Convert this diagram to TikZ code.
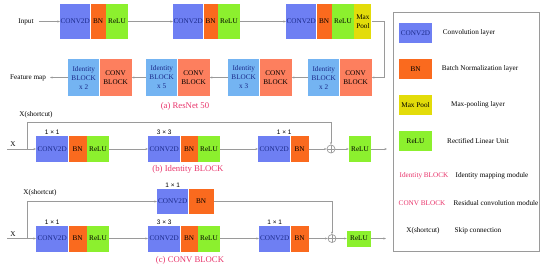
\documentclass[tikz,border=0pt]{standalone}
\usepackage{fontspec}
\setmainfont{Liberation Serif}
\setsansfont{Liberation Sans}
\usetikzlibrary{arrows.meta,positioning}
\definecolor{Cc}{HTML}{6E7FF3}
\definecolor{Bc}{HTML}{FA6A1E}
\definecolor{Rc}{HTML}{8CF02E}
\definecolor{Mc}{HTML}{E3DC0A}
\definecolor{Ic}{HTML}{74B4F2}
\definecolor{Vc}{HTML}{FD7F5E}
\definecolor{Nv}{HTML}{1B2A8A}
\definecolor{Pk}{HTML}{E8336A}
\definecolor{Gl}{HTML}{9A9A9A}
\tikzset{
  blk/.style={rectangle, inner sep=0pt, minimum height=26pt, align=center,
    font=\fontsize{7.2}{9}\selectfont, text=black},
  conv/.style={blk, fill=Cc, text=Nv},
  bn/.style={blk, fill=Bc},
  relu/.style={blk, fill=Rc},
  pool/.style={blk, fill=Mc},
  idb/.style={blk, fill=Ic, text=Nv, minimum width=31pt, minimum height=37pt},
  cvb/.style={blk, fill=Vc, minimum width=32pt, minimum height=37pt},
  lbl/.style={font=\fontsize{7.2}{9}\selectfont, inner sep=1pt, text=black},
  kk/.style={font=\sffamily\fontsize{6.5}{8}\selectfont, inner sep=1pt},
  capt/.style={font=\fontsize{8.7}{10}\selectfont, text=Pk},
  link/.style={-{Stealth[length=2.5pt,width=2pt]}, Gl, line width=0.7pt},
  plus/.style={circle, draw=Gl, line width=0.7pt, inner sep=0pt, minimum size=8pt,
    path picture={\draw[Gl, line width=0.7pt]
      (path picture bounding box.north) -- (path picture bounding box.south)
      (path picture bounding box.west) -- (path picture bounding box.east);}},
}
% CONV2D -- BN -- ReLU chain: name, west point, height, conv width, bn width
\newcommand{\cbr}[5]{%
  \node[conv, minimum width=#4, minimum height=#3, anchor=west] (#1c) at #2 {CONV2D};
  \node[bn, minimum width=#5, minimum height=#3, right=0pt of #1c] (#1b) {BN};
  \node[relu, minimum width=22, minimum height=#3, right=0pt of #1b] (#1r) {ReLU};}

\begin{document}
\begin{tikzpicture}[x=1pt, y=-1pt]
  \useasboundingbox (0,0) rectangle (550,269);
  % (a) ResNet 50
  \node[lbl, inner xsep=5pt] (inp) at (26,21.5) {Input};
  \cbr{a}{(60,21.5)}{35}{30}{15}
  \cbr{b}{(173,21.5)}{35}{30}{14}
  \cbr{c}{(286,21.5)}{35}{30}{15}
  \node[pool, minimum width=17, minimum height=35, right=0pt of cr] (cp) {Max\\Pool};
  \draw[link] (inp.east) -- (ac.west);
  \draw[link] (ar.east) -- (bc.west);
  \draw[link] (br.east) -- (cc.west);
  \foreach \g/\xx/\n in {A/308/2, B/228/3, C/146/5, D/68/2}{
    \node[idb, anchor=west] (i\g) at (\xx,77.5) {Identity\\BLOCK\\x \n};
    \node[cvb, right=0pt of i\g] (v\g) {CONV\\BLOCK};}
  \node[lbl, inner xsep=4pt] (fm) at (28,77.5) {Feature map};
  \draw[link] (cp.east) -- ++(13,0) |- (vA.east);
  \draw[link] (iA.west) -- (vB.east);
  \draw[link] (iB.west) -- (vC.east);
  \draw[link] (iC.west) -- (vD.east);
  \draw[link] (iD.west) -- (fm.east);
  \node[capt] (capa) at (185,106) {(a) ResNet 50};

  % (b) Identity BLOCK
  \coordinate (x3) at (7,149);
  \coordinate (s3) at (27,149);
  \coordinate (o3) at (387,149);
  \node[lbl] (xb) at (13,144.5) {X};
  \node[lbl] (xs3) at (36,115) {X(shortcut)};
  \cbr{d}{(36,149)}{26}{32}{18}
  \cbr{e}{(148,149)}{26}{32}{17}
  \node[conv, minimum width=32, anchor=west] (fc) at (258,149) {CONV2D};
  \node[bn, minimum width=18, right=0pt of fc] (fb) {BN};
  \node[kk, above=0pt of dc] (k31) {1 × 1};
  \node[kk, above=0pt of ec] (k32) {3 × 3};
  \node[kk, above=0pt of fc, xshift=10pt] (k33) {1 × 1};
  \node[plus] (p3) at (331,149) {};
  \node[relu, minimum width=22] (g3) at (360,149) {ReLU};
  \draw[link] (x3) -- (dc.west);
  \draw[link] (dr.east) -- (ec.west);
  \draw[link] (er.east) -- (fc.west);
  \draw[link] (fb.east) -- (p3.west);
  \draw[link] (p3.east) -- (g3.west);
  \draw[link] (g3.east) -- (o3);
  \draw[link] (s3) -- ++(0,-27) -| (p3.north);
  \node[capt] (capb) at (188,169) {(b) Identity BLOCK};

  % (c) CONV BLOCK
  \coordinate (x4) at (7,238.5);
  \coordinate (s4) at (27,238.5);
  \coordinate (o4) at (386,238.5);
  \node[lbl] (xc) at (13,234) {X};
  \node[lbl] (xs4) at (40,193) {X(shortcut)};
  \node[conv, minimum width=31, minimum height=25, anchor=west] (sc) at (157,201.5) {CONV2D};
  \node[bn, minimum width=25, minimum height=25, right=0pt of sc] (sb) {BN};
  \cbr{h}{(36,238.5)}{26}{32}{18}
  \cbr{i}{(148,238.5)}{26}{32}{17}
  \node[conv, minimum width=31, anchor=west] (jc) at (259,238.5) {CONV2D};
  \node[bn, minimum width=18, right=0pt of jc] (jb) {BN};
  \node[kk, above=0pt of sc] (k40) {1 × 1};
  \node[kk, above=0pt of hc] (k41) {1 × 1};
  \node[kk, above=0pt of ic] (k42) {3 × 3};
  \node[kk, above=0pt of jc] (k43) {1 × 1};
  \node[plus] (p4) at (332,238.5) {};
  \node[relu, minimum width=24, minimum height=16] (g4) at (359,238.5) {ReLU};
  \draw[link] (x4) -- (hc.west);
  \draw[link] (hr.east) -- (ic.west);
  \draw[link] (ir.east) -- (jc.west);
  \draw[link] (jb.east) -- (p4.west);
  \draw[link] (p4.east) -- (g4.west);
  \draw[link] (g4.east) -- (o4);
  \draw[link] (s4) |- (sc.west);
  \draw[link] (sb.east) -| (p4.north);
  \node[capt] (capc) at (190,260) {(c) CONV BLOCK};

  % legend
  \draw[Gl, line width=0.7pt] (393,12) rectangle (539,251);
  \foreach \i/\c/\tc/\t/\d/\xx in {1/Cc/Nv/CONV2D/Convolution layer/469,
      2/Bc/black/BN/Batch Normalization layer/480,
      3/Mc/black/Max Pool/Max-pooling layer/478,
      4/Rc/black/ReLU/Rectified Linear Unit/478}{
    \node[blk, fill=\c, text=\tc, minimum width=33, minimum height=20]
      (sw\i) at (415.5,{33+36*(\i-1)}) {\t};
    \node[lbl] (ds\i) at (\xx,{33+36*(\i-1)}) {\d};}
  \node[lbl, text=Pk] (li) at (424,176) {Identity BLOCK};
  \node[lbl] (di) at (492,176) {Identity mapping module};
  \node[lbl, text=Pk] (lv) at (422,203) {CONV BLOCK};
  \node[lbl] (dv) at (496,203) {Residual convolution module};
  \node[lbl] (lx) at (423,231) {X(shortcut)};
  \node[lbl] (dx) at (478,231) {Skip connection};
\end{tikzpicture}
\end{document}
